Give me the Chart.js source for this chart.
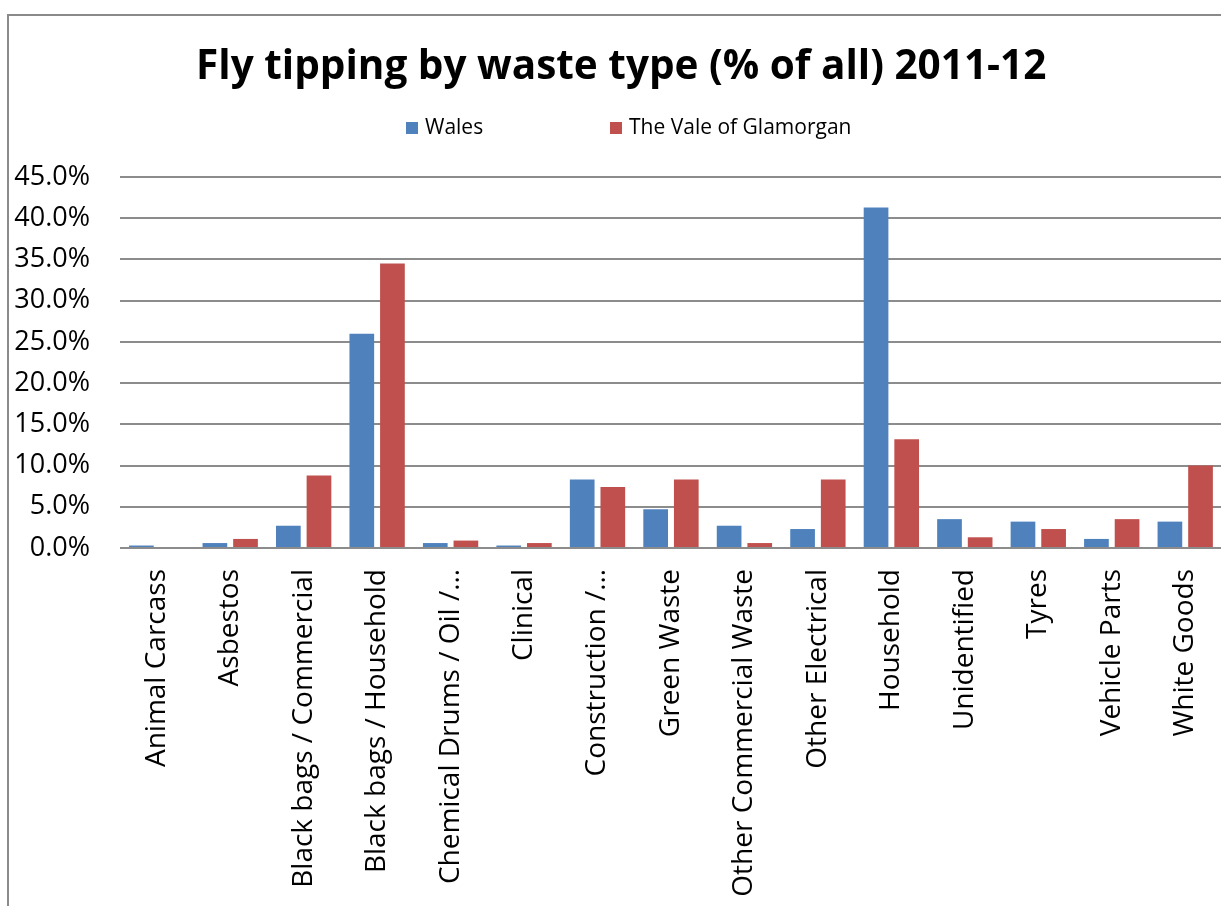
<!DOCTYPE html>
<html>
<head>
<meta charset="utf-8">
<script src="https://cdn.jsdelivr.net/npm/chart.js@4/dist/chart.umd.min.js"></script>
<style>
  html, body { margin: 0; padding: 0; background: #fff; overflow: hidden; }
  #wrap { position: relative; width: 1240px; height: 906px; }
</style>
</head>
<body>
<div id="wrap"><canvas id="chart" width="1240" height="906"></canvas></div>
<script>
// Fly tipping incidents by waste type, share of all incidents (%), 2011-12
const categories = [
  'Animal Carcass', 'Asbestos', 'Black bags / Commercial', 'Black bags / Household',
  'Chemical Drums / Oil /…', 'Clinical', 'Construction /…', 'Green Waste',
  'Other Commercial Waste', 'Other Electrical', 'Household', 'Unidentified',
  'Tyres', 'Vehicle Parts', 'White Goods'
];
const walesValues = [0.3, 0.6, 2.7, 26.0, 0.6, 0.3, 8.3, 4.7, 2.7, 2.3, 41.3, 3.5, 3.2, 1.1, 3.2];
const valeValues  = [0.0, 1.1, 8.8, 34.5, 0.9, 0.6, 7.4, 8.3, 0.6, 8.3, 13.2, 1.3, 2.3, 3.5, 10.0];
const seriesNames = ['Wales', 'The Vale of Glamorgan'];
const yTicks = [0, 5, 10, 15, 20, 25, 30, 35, 40, 45];

const BLUE = '#4F81BD';
const RED = '#C0504D';
const GRID = '#8c8c8c';
const FONT = "'Open Sans', 'DejaVu Sans', sans-serif";

// Outer chart frame (top and left edges)
const framePlugin = {
  id: 'frame',
  beforeDraw(chart) {
    const ctx = chart.ctx;
    ctx.save();
    ctx.strokeStyle = '#8a8a8a';
    ctx.lineWidth = 2;
    ctx.beginPath();
    ctx.moveTo(8, chart.height + 5);
    ctx.lineTo(8, 15);
    ctx.lineTo(chart.width + 5, 15);
    ctx.stroke();
    ctx.restore();
  }
};

// Legend row under the title, spaced wide apart
const legendRow = {
  id: 'legendRow',
  afterDraw(chart) {
    const ctx = chart.ctx;
    const items = [
      { x: 406, ds: chart.data.datasets[0] },
      { x: 610, ds: chart.data.datasets[1] }
    ];
    const cy = 128;
    ctx.save();
    ctx.font = '21px ' + FONT;
    ctx.textBaseline = 'middle';
    ctx.textAlign = 'left';
    items.forEach(it => {
      ctx.fillStyle = it.ds.backgroundColor;
      ctx.fillRect(it.x, cy - 6, 12, 12);
      ctx.fillStyle = '#000';
      ctx.fillText(it.ds.label, it.x + 19, cy);
    });
    ctx.restore();
  }
};

new Chart(document.getElementById('chart'), {
  type: 'bar',
  data: {
    labels: categories,
    datasets: [
      { label: seriesNames[0], data: walesValues, backgroundColor: BLUE },
      { label: seriesNames[1], data: valeValues, backgroundColor: RED }
    ]
  },
  options: {
    responsive: false,
    animation: false,
    events: [],
    layout: { padding: { left: 8, right: 5.5, top: 0, bottom: 0 } },
    datasets: {
      bar: { categoryPercentage: 0.834, barPercentage: 0.806 }
    },
    plugins: {
      legend: { display: false },
      tooltip: { enabled: false },
      title: {
        display: true,
        text: 'Fly tipping by waste type (% of all) 2011-12',
        color: '#000',
        font: { family: FONT, size: 40.5, weight: 'bold', lineHeight: 1.2 },
        padding: { top: 43, bottom: 85.4 }
      }
    },
    scales: {
      x: {
        grid: { display: false, drawTicks: false },
        border: { display: false },
        ticks: {
          autoSkip: false,
          minRotation: 90,
          maxRotation: 90,
          padding: 21,
          color: '#000',
          font: { family: FONT, size: 28 }
        },
        afterFit(scale) { scale.height = 358; }
      },
      y: {
        min: 0,
        max: 45,
        afterBuildTicks(scale) { scale.ticks = yTicks.map(v => ({ value: v })); },
        grid: { color: GRID, lineWidth: 2, drawTicks: false },
        border: { display: false },
        ticks: {
          padding: 30,
          color: '#000',
          font: { family: FONT, size: 27 },
          callback: v => v.toFixed(1) + '%'
        },
        afterFit(scale) { scale.width = 112; }
      }
    }
  },
  plugins: [framePlugin, legendRow]
});
</script>
</body>
</html>
